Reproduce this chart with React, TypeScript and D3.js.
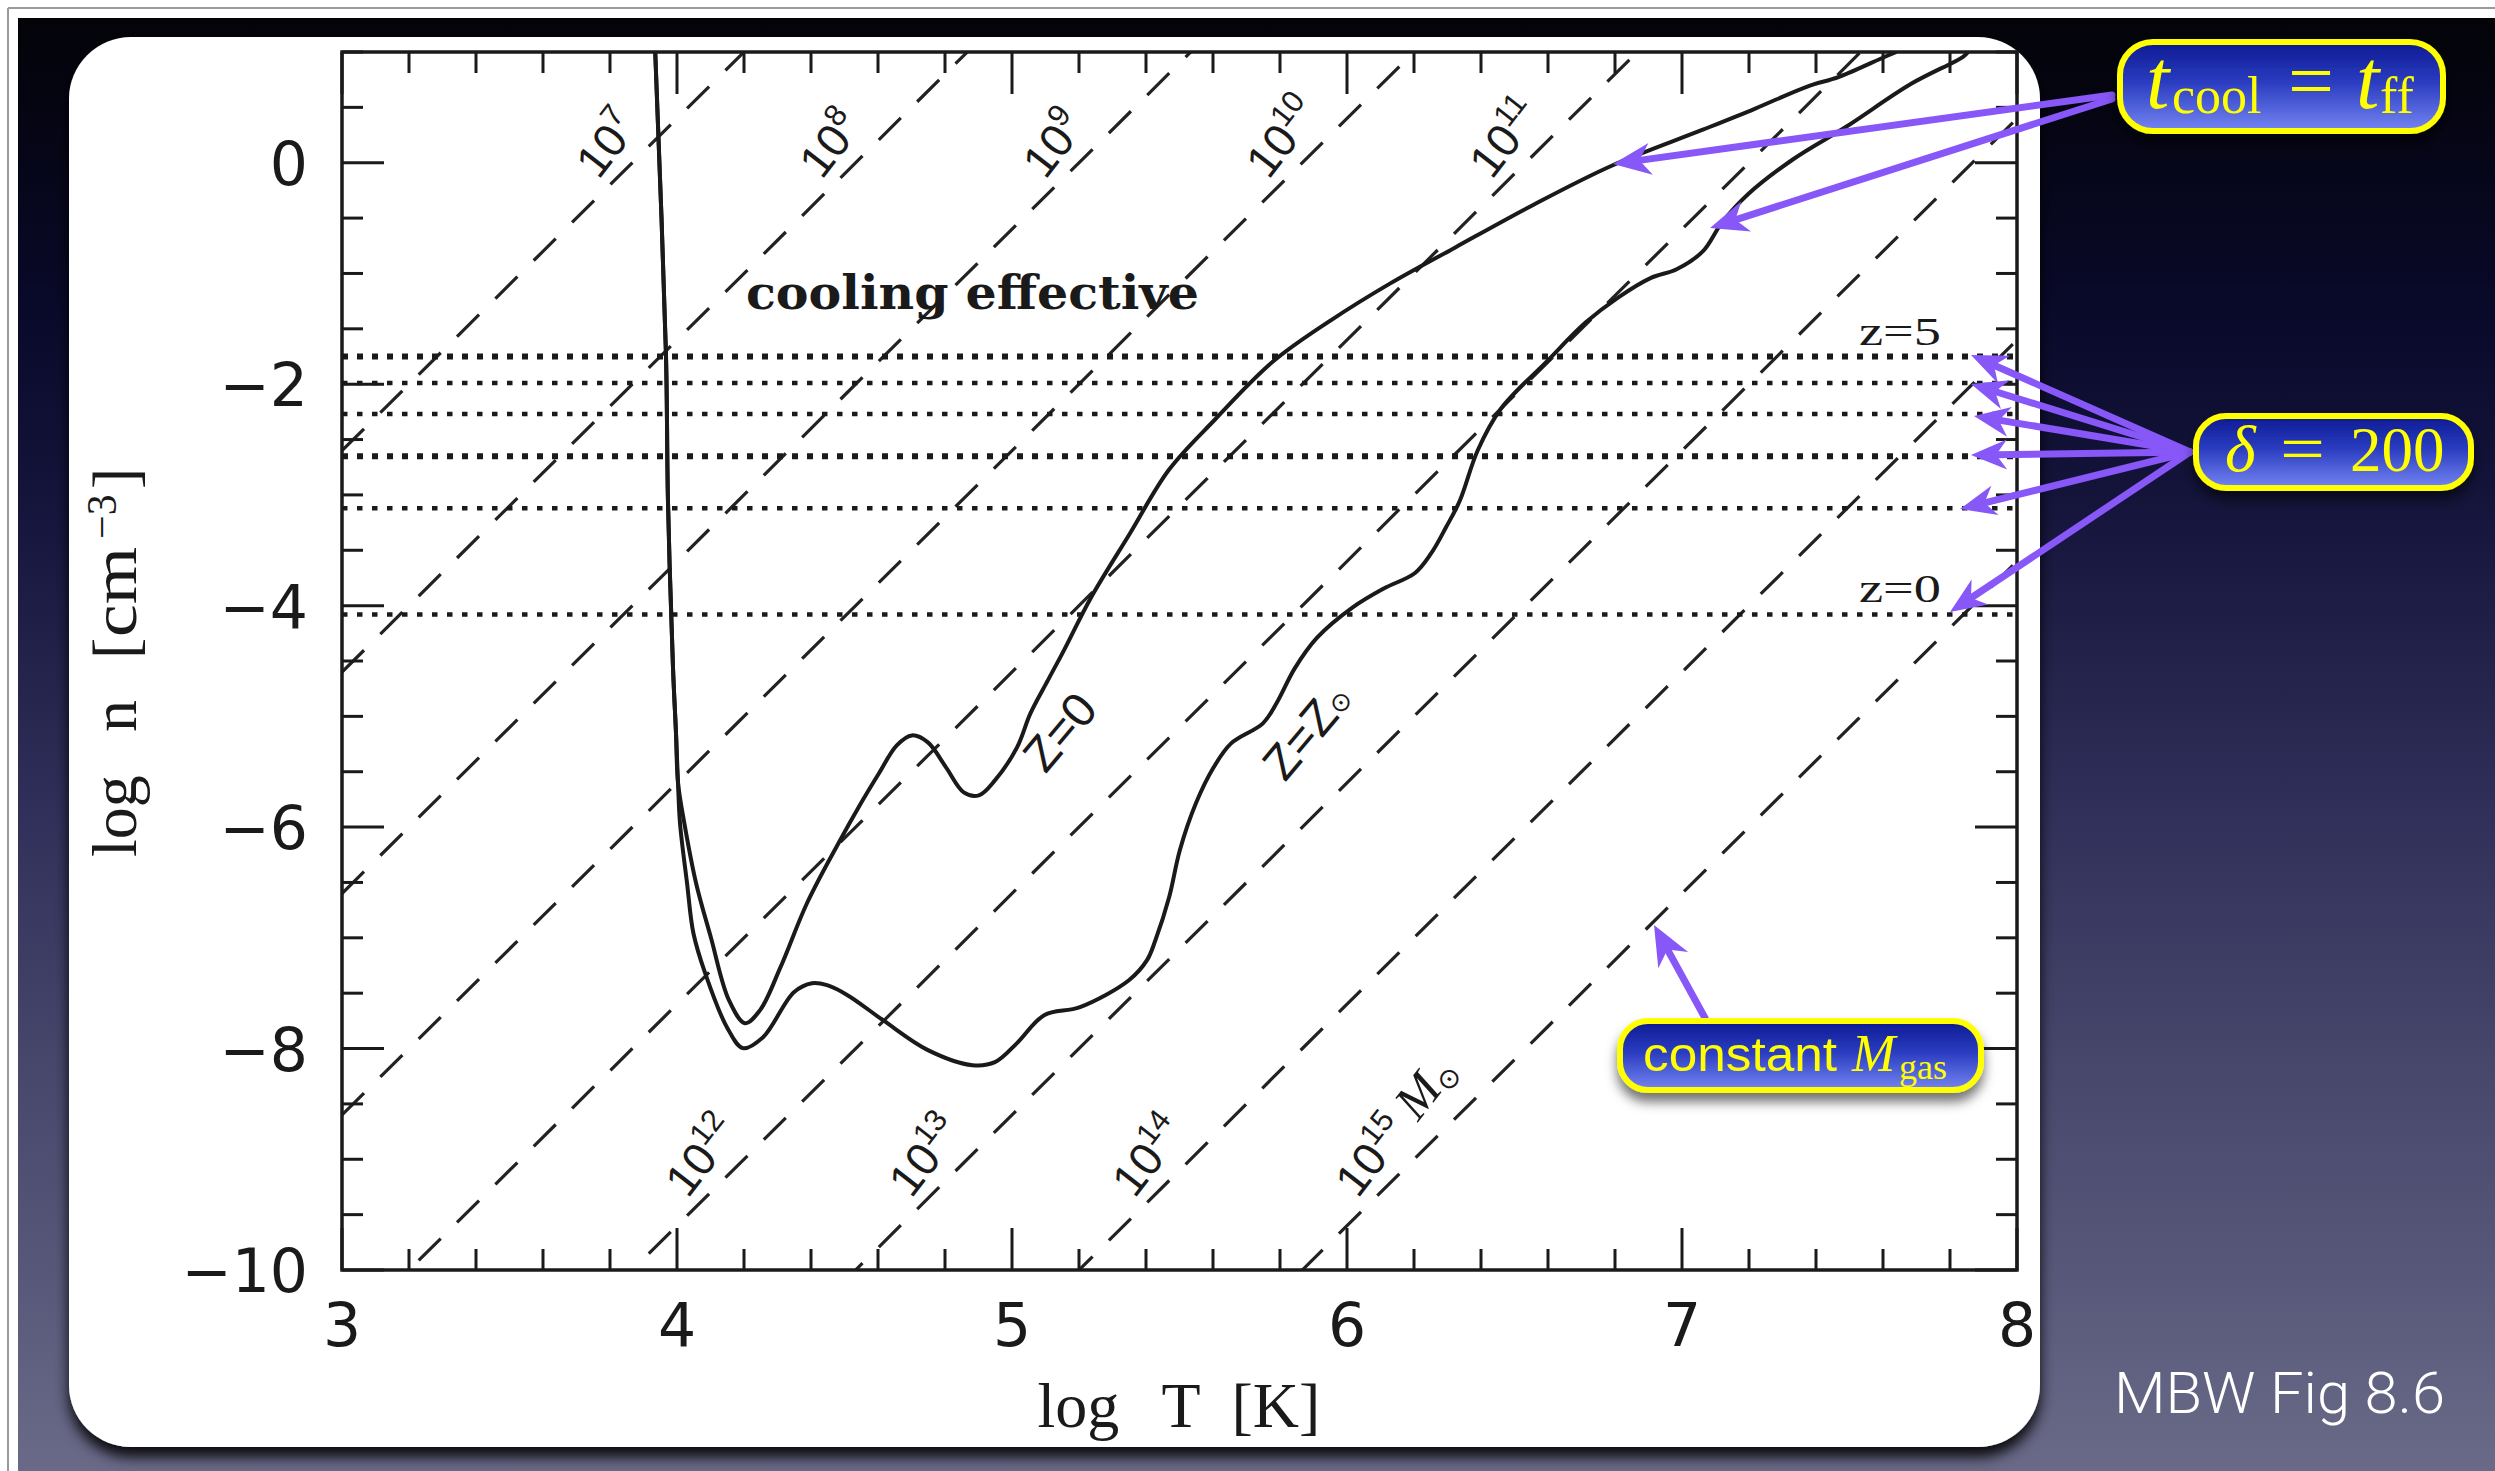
import React from "react";
import * as d3 from "d3";

const W = 2495;
const H = 1471;

// ---------- data ----------
const xDomain: [number, number] = [3, 8];
const yDomain: [number, number] = [-10, 1];
const xMajorTicks = [3, 4, 5, 6, 7, 8];
const yMajorTicks = [0, -2, -4, -6, -8, -10];

// constant gas-mass lines (log n = logn(T=3) + 3 (logT - 3))
const massExponents = [7, 8, 9, 10, 11, 12, 13, 14, 15];
const massLineLogNAtT3 = [-2.6, -4.6, -6.6, -8.6, -10.6, -12.6, -14.6, -16.6, -18.6];
const massLineSlope = 3;
const massLabelLogN = [-0.16, -0.16, -0.16, -0.16, -0.16, -9.36, -9.36, -9.36, -9.36];

// delta = 200 densities for z = 5..0
const redshifts = [5, 4, 3, 2, 1, 0];
const delta200LogN = [-1.75, -1.99, -2.27, -2.65, -3.12, -4.08];
const delta200Bold = [true, false, false, true, false, false];

// t_cool = t_ff curves [logT, logn]
const sharedBranch: [number, number][] = [
  [3.935, 1.0], [3.967, -1.724], [3.973, -3.05], [3.988, -4.556], [3.997, -5.152], [4.003, -5.6],
];
const zeroMetalBranch: [number, number][] = [
  [4.022, -5.966], [4.057, -6.507], [4.101, -6.995], [4.155, -7.563], [4.203, -7.771],
  [4.248, -7.653], [4.309, -7.265], [4.388, -6.688], [4.482, -6.146], [4.549, -5.785],
  [4.603, -5.514], [4.656, -5.262], [4.701, -5.172], [4.749, -5.235], [4.803, -5.46],
  [4.856, -5.686], [4.901, -5.713], [4.949, -5.578], [5.015, -5.28], [5.055, -4.973],
  [5.107, -4.675], [5.155, -4.404], [5.236, -3.926], [5.352, -3.348], [5.469, -2.771],
  [5.606, -2.319], [5.779, -1.796], [5.955, -1.417], [6.128, -1.092], [6.322, -0.767],
  [6.557, -0.379], [6.79, -0.027], [7.062, 0.298], [7.217, 0.487], [7.372, 0.686],
  [7.469, 0.776], [7.606, 0.957], [7.64, 1.0],
];
const solarMetalBranch: [number, number][] = [
  [4.009, -5.966], [4.03, -6.507], [4.049, -6.959], [4.084, -7.319], [4.149, -7.807],
  [4.197, -7.996], [4.257, -7.897], [4.349, -7.491], [4.403, -7.41], [4.448, -7.428],
  [4.509, -7.518], [4.615, -7.744], [4.749, -8.014], [4.882, -8.15], [4.949, -8.123],
  [5.015, -7.951], [5.096, -7.699], [5.203, -7.626], [5.349, -7.383], [5.403, -7.202],
  [5.428, -7.022], [5.469, -6.634], [5.501, -6.209], [5.549, -5.785], [5.602, -5.46],
  [5.654, -5.244], [5.749, -5.063], [5.79, -4.879], [5.844, -4.567], [5.91, -4.292],
  [6.017, -4.016], [6.11, -3.845], [6.203, -3.705], [6.251, -3.529], [6.296, -3.29],
  [6.337, -3.051], [6.39, -2.599], [6.46, -2.22], [6.596, -1.796], [6.712, -1.444],
  [6.809, -1.218], [6.906, -1.042], [6.984, -0.962], [7.062, -0.801], [7.119, -0.542],
  [7.197, -0.285], [7.334, 0.036], [7.49, 0.325], [7.684, 0.713], [7.839, 0.957], [7.854, 1.0],
];

const INK = "#1b1a1a";
const PURPLE = "#8757f7";
const YELLOW = "#ffff00";

type ArrowProps = { x1: number; y1: number; x2: number; y2: number; len?: number; hw?: number };
function Arrow({ x1, y1, x2, y2, len = 38, hw = 16 }: ArrowProps) {
  const dx = x2 - x1, dy = y2 - y1;
  const L = Math.hypot(dx, dy);
  const ux = dx / L, uy = dy / L;
  const px = -uy, py = ux;
  const bx = x2 - ux * len, by = y2 - uy * len;
  const nx = x2 - ux * len * 0.7, ny = y2 - uy * len * 0.7;
  const head = `M${x2},${y2}L${bx + px * hw},${by + py * hw}L${nx},${ny}L${bx - px * hw},${by - py * hw}Z`;
  return (
    <g>
      <line x1={x1} y1={y1} x2={nx} y2={ny} stroke={PURPLE} strokeWidth={7} strokeLinecap="round" />
      <path d={head} fill={PURPLE} />
    </g>
  );
}

export default function App() {
  const x = d3.scaleLinear().domain(xDomain).range([342, 2017]);
  const y = d3.scaleLinear().domain(yDomain).range([1270, 52]);
  const [X0, X1] = x.range();
  const [Y0, Y1] = y.range();

  const curve = d3
    .line<[number, number]>()
    .x((d) => x(d[0]))
    .y((d) => y(d[1]))
    .curve(d3.curveCatmullRom.alpha(0.5));
  const zeroPath = curve([...sharedBranch, ...zeroMetalBranch]) || "";
  const solarPath = curve([...sharedBranch, ...solarMetalBranch]) || "";

  const xMinor = d3.range(3, 8.0001, 0.2).filter((v) => Math.abs(v - Math.round(v)) > 1e-6);
  const yMinor = d3.range(-10, 1.0001, 0.5).filter((v) => Math.abs(v / 2 - Math.round(v / 2)) > 1e-6);

  const major = 42, minor = 21;

  return (
    <svg
      width={W}
      height={H}
      viewBox={`0 0 ${W} ${H}`}
      style={{ position: "absolute", left: 0, top: 0, display: "block" }}
    >
      <defs>
        <linearGradient id="bg" x1="0" y1="0" x2="0" y2="1">
          <stop offset="0" stopColor="#030308" />
          <stop offset="0.2" stopColor="#09092a" />
          <stop offset="0.35" stopColor="#16163e" />
          <stop offset="0.55" stopColor="#30305a" />
          <stop offset="0.72" stopColor="#47476c" />
          <stop offset="0.87" stopColor="#58587a" />
          <stop offset="1" stopColor="#6a6a88" />
        </linearGradient>
        <linearGradient id="box" x1="0" y1="0" x2="0" y2="1">
          <stop offset="0" stopColor="#0c1a92" />
          <stop offset="0.45" stopColor="#2a3cc0" />
          <stop offset="1" stopColor="#7585f2" />
        </linearGradient>
        <filter id="panelShadow" x="-5%" y="-5%" width="110%" height="112%">
          <feDropShadow dx="0" dy="10" stdDeviation="7" floodColor="#000" floodOpacity="0.9" />
        </filter>
        <filter id="boxShadow" x="-10%" y="-20%" width="120%" height="160%">
          <feDropShadow dx="0" dy="9" stdDeviation="6" floodColor="#000" floodOpacity="0.55" />
        </filter>
        <clipPath id="plotClip">
          <rect x={X0} y={Y1} width={X1 - X0} height={Y0 - Y1} />
        </clipPath>
      </defs>

      {/* page and slide background */}
      <rect x={0} y={0} width={W} height={H} fill="#ffffff" />
      <line x1={8} y1={8} x2={8} y2={H} stroke="#9a9a9a" strokeWidth={2} />
      <line x1={8} y1={8} x2={W} y2={8} stroke="#9a9a9a" strokeWidth={2} />
      <rect x={18} y={18} width={W - 18} height={H - 18} fill="url(#bg)" />

      {/* white figure panel */}
      <rect x={69} y={37} width={1971} height={1410} rx={62} ry={62} fill="#ffffff" filter="url(#panelShadow)" />

      {/* plot contents */}
      <g clipPath="url(#plotClip)">
        {massExponents.map((k, i) => {
          const a = massLineLogNAtT3[i];
          return (
            <line
              key={`m${k}`}
              x1={x(3)}
              y1={y(a)}
              x2={x(8)}
              y2={y(a + massLineSlope * 5)}
              stroke="#222"
              strokeWidth={3.2}
              strokeDasharray="31 23"
            />
          );
        })}
        {delta200LogN.map((v, i) => (
          <line
            key={`d${i}`}
            x1={X0}
            x2={X1}
            y1={y(v)}
            y2={y(v)}
            stroke={INK}
            strokeWidth={delta200Bold[i] ? 6 : 4.5}
            strokeDasharray={delta200Bold[i] ? "6 9" : "5.5 9.5"}
          />
        ))}
        <path d={solarPath} fill="none" stroke={INK} strokeWidth={4} strokeLinejoin="round" />
        <path d={zeroPath} fill="none" stroke={INK} strokeWidth={4} strokeLinejoin="round" />
      </g>

      {/* frame and ticks */}
      <rect x={X0} y={Y1} width={X1 - X0} height={Y0 - Y1} fill="none" stroke={INK} strokeWidth={3.5} />
      <g stroke={INK} strokeWidth={3}>
        {xMajorTicks.map((t) => (
          <g key={`xt${t}`}>
            <line x1={x(t)} x2={x(t)} y1={Y0} y2={Y0 - major} />
            <line x1={x(t)} x2={x(t)} y1={Y1} y2={Y1 + major} />
          </g>
        ))}
        {xMinor.map((t, i) => (
          <g key={`xm${i}`}>
            <line x1={x(t)} x2={x(t)} y1={Y0} y2={Y0 - minor} />
            <line x1={x(t)} x2={x(t)} y1={Y1} y2={Y1 + minor} />
          </g>
        ))}
        {yMajorTicks.map((t) => (
          <g key={`yt${t}`}>
            <line y1={y(t)} y2={y(t)} x1={X0} x2={X0 + major} />
            <line y1={y(t)} y2={y(t)} x1={X1} x2={X1 - major} />
          </g>
        ))}
        {yMinor.map((t, i) => (
          <g key={`ym${i}`}>
            <line y1={y(t)} y2={y(t)} x1={X0} x2={X0 + minor} />
            <line y1={y(t)} y2={y(t)} x1={X1} x2={X1 - minor} />
          </g>
        ))}
      </g>

      {/* tick labels */}
      <g fontFamily="DejaVu Sans" fontSize={60} fill={INK}>
        {xMajorTicks.map((t) => (
          <text key={`xl${t}`} x={x(t)} y={1346} textAnchor="middle">
            {t}
          </text>
        ))}
        {yMajorTicks.map((t) => (
          <text key={`yl${t}`} x={308} y={y(t) + 22} textAnchor="end">
            {t === 0 ? "0" : `\u2212${Math.abs(t)}`}
          </text>
        ))}
      </g>

      {/* axis titles */}
      <g fontFamily="Liberation Serif" fontSize={64} fill={INK}>
        <text x={(X0 + X1) / 2 - 142} y={1427}>log</text>
        <text x={(X0 + X1) / 2 - 18} y={1427}>T</text>
        <text x={(X0 + X1) / 2 + 52} y={1427}>[K]</text>
        <g transform={`translate(136, ${(Y0 + Y1) / 2}) rotate(-90)`}>
          <text x={-196} y={0}>log</text>
          <text x={-71} y={0}>n</text>
          <text x={2} y={0}>[</text>
          <text x={24} y={0} textLength={90} lengthAdjust="spacingAndGlyphs">cm</text>
          <text x={122} y={-20} fontSize={42}>{"\u22123"}</text>
          <text x={172} y={0}>]</text>
        </g>
      </g>

      {/* in-plot annotations */}
      <text
        x={x(4.206)}
        y={y(-1.318)}
        fontFamily="DejaVu Serif"
        fontWeight="bold"
        fontSize={46}
        fill={INK}
        textLength={453}
        lengthAdjust="spacingAndGlyphs"
      >
        cooling effective
      </text>

      {massExponents.map((k, i) => {
        const a = massLineLogNAtT3[i];
        const ln = massLabelLogN[i];
        const lt = 3 + (ln - a) / massLineSlope;
        const px = x(lt) - 16;
        const py = y(ln);
        return (
          <text
            key={`ml${k}`}
            transform={`translate(${px},${py}) rotate(-52)`}
            fontFamily="Liberation Sans"
            fontSize={46}
            fill={INK}
          >
            10
            <tspan fontSize={31} dy={-19}>
              {k}
            </tspan>
            {k === 15 && (
              <tspan dy={19} dx={12} fontFamily="Liberation Serif" fontStyle="italic" fontSize={50}>
                M
              </tspan>
            )}
            {k === 15 && (
              <tspan dy={7} fontFamily="DejaVu Sans" fontSize={28}>
                {"\u2299"}
              </tspan>
            )}
          </text>
        );
      })}

      <text
        transform={`translate(${x(5.143)},${y(-5.14)}) rotate(-50)`}
        textAnchor="middle"
        dominantBaseline="central"
        fontFamily="Liberation Sans"
        fontSize={48}
        fill={INK}
      >
        Z=0
      </text>
      <text
        transform={`translate(${x(5.881)},${y(-5.13)}) rotate(-50)`}
        textAnchor="middle"
        dominantBaseline="central"
        fontFamily="Liberation Sans"
        fontSize={48}
        fill={INK}
      >
        Z=Z
        <tspan fontFamily="DejaVu Sans" fontSize={26} dy={7}>
          {"\u2299"}
        </tspan>
      </text>

      <text
        x={x(7.773)}
        y={y(delta200LogN[0]) - 12}
        textAnchor="end"
        fontFamily="Liberation Serif"
        fontSize={40}
        fill={INK}
        textLength={82}
        lengthAdjust="spacingAndGlyphs"
      >
        {`z=${redshifts[0]}`}
      </text>
      <text
        x={x(7.773)}
        y={y(delta200LogN[5]) - 12}
        textAnchor="end"
        fontFamily="Liberation Serif"
        fontSize={40}
        fill={INK}
        textLength={82}
        lengthAdjust="spacingAndGlyphs"
      >
        {`z=${redshifts[5]}`}
      </text>

      {/* arrows */}
      <Arrow x1={2112} y1={95} x2={1613} y2={164} />
      <Arrow x1={2112} y1={99} x2={1710} y2={228} />
      {[
        [1971, 355],
        [1971, 384],
        [1974, 416],
        [1971, 455],
        [1960, 509],
        [1950, 612],
      ].map(([tx, ty], i) => (
        <Arrow key={`da${i}`} x1={2190} y1={452} x2={tx} y2={ty} len={36} hw={15} />
      ))}
      <Arrow x1={1705} y1={1018} x2={1654} y2={925} len={40} hw={17} />

      {/* callout boxes */}
      <g filter="url(#boxShadow)">
        <rect x={2120} y={42} width={323} height={89} rx={33} fill="url(#box)" stroke={YELLOW} strokeWidth={6} />
        <rect x={2196} y={416} width={275} height={72} rx={30} fill="url(#box)" stroke={YELLOW} strokeWidth={6} />
        <rect x={1620} y={1021} width={361} height={69} rx={28} fill="url(#box)" stroke={YELLOW} strokeWidth={6} />
      </g>

      {/* t_cool = t_ff */}
      <g fill={YELLOW} fontFamily="Liberation Serif">
        <text x={2146} y={108} fontSize={84} fontStyle="italic">t</text>
        <text x={2172} y={113} fontSize={52}>cool</text>
        <text x={2288} y={108} fontSize={80} textLength={46} lengthAdjust="spacingAndGlyphs">=</text>
        <text x={2356} y={108} fontSize={84} fontStyle="italic">t</text>
        <text x={2380} y={113} fontSize={52}>ff</text>
      </g>

      {/* delta = 200 */}
      <g fill={YELLOW} fontFamily="Liberation Serif">
        <text x={2225} y={471} fontSize={66} fontStyle="italic">{"\u03b4"}</text>
        <text x={2280} y={471} fontSize={66} textLength={45} lengthAdjust="spacingAndGlyphs">=</text>
        <text x={2350} y={471} fontSize={63}>200</text>
      </g>

      {/* constant M_gas */}
      <g fill={YELLOW}>
        <text x={1643} y={1071} fontFamily="Liberation Sans" fontSize={48} textLength={194} lengthAdjust="spacingAndGlyphs">
          constant
        </text>
        <text x={1852} y={1071} fontFamily="Liberation Serif" fontStyle="italic" fontSize={52}>M</text>
        <text x={1899} y={1079} fontFamily="Liberation Serif" fontSize={36}>gas</text>
      </g>

      {/* caption */}
      <text
        x={2445}
        y={1413}
        textAnchor="end"
        fontFamily="Roboto"
        fontWeight={300}
        fontSize={57}
        fill="#ffffff"
        textLength={331}
        lengthAdjust="spacingAndGlyphs"
      >
        MBW Fig 8.6
      </text>
    </svg>
  );
}
